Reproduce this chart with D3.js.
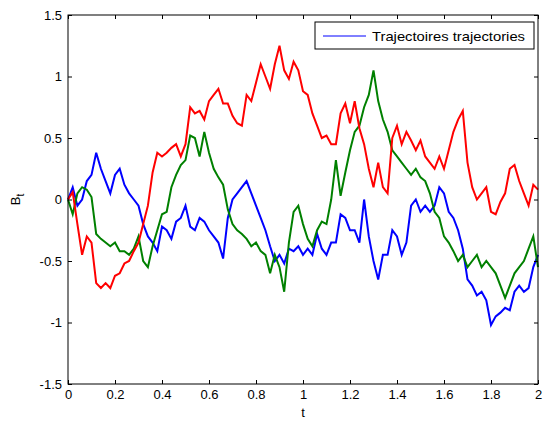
<!DOCTYPE html>
<html>
<head>
<meta charset="utf-8">
<script src="https://cdn.jsdelivr.net/npm/d3@7"></script>
<style>
  body { margin: 0; background: #fff; }
  text { font-family: "Liberation Sans", Arial, sans-serif; }
</style>
</head>
<body>
<div id="chart"></div>
<script>
// time grid, step 0.02
var t_values = d3.range(0, 101).map(function(i) { return Math.round(i * 2) / 100; });

var blue_values = [
  0, 0.1, -0.05, 0.0, 0.15, 0.2, 0.38, 0.25, 0.15, 0.05,
  0.2, 0.25, 0.12, 0.05, 0.0, -0.05, -0.2, -0.3, -0.35, -0.42,
  -0.22, -0.25, -0.32, -0.18, -0.15, -0.05, -0.22, -0.25, -0.15, -0.18,
  -0.25, -0.3, -0.35, -0.48, -0.15, 0.0, 0.05, 0.1, 0.15, 0.05,
  -0.05, -0.15, -0.25, -0.38, -0.5, -0.45, -0.52, -0.4, -0.42, -0.38,
  -0.45, -0.4, -0.45, -0.28, -0.4, -0.45, -0.35, -0.35, -0.12, -0.15,
  -0.25, -0.25, -0.35, 0.0, -0.3, -0.5, -0.65, -0.45, -0.45, -0.25,
  -0.3, -0.45, -0.35, -0.05, 0.0, -0.1, -0.05, -0.1, -0.05, 0.1,
  0.05, -0.1, -0.15, -0.25, -0.4, -0.65, -0.7, -0.78, -0.75, -0.82,
  -1.02, -0.95, -0.92, -0.88, -0.9, -0.75, -0.7, -0.75, -0.72, -0.55,
  -0.45
];

var green_values = [
  0, -0.12, 0.05, 0.1, 0.08, 0.02, -0.28, -0.32, -0.35, -0.38,
  -0.35, -0.42, -0.42, -0.45, -0.4, -0.3, -0.5, -0.55, -0.38, -0.25,
  -0.12, -0.1, 0.1, 0.2, 0.28, 0.32, 0.52, 0.5, 0.35, 0.55,
  0.38, 0.25, 0.18, 0.12, -0.08, -0.2, -0.25, -0.28, -0.32, -0.38,
  -0.35, -0.42, -0.45, -0.6, -0.45, -0.55, -0.75, -0.35, -0.1, -0.05,
  -0.2, -0.32, -0.38, -0.25, -0.18, -0.2, 0.0, 0.32, 0.03, 0.22,
  0.4, 0.55, 0.6, 0.75, 0.85, 1.05, 0.8, 0.65, 0.55, 0.4,
  0.35, 0.3, 0.25, 0.2, 0.25, 0.18, 0.15, 0.05, -0.1, -0.15,
  -0.3, -0.35, -0.42, -0.5, -0.45, -0.55, -0.5, -0.45, -0.55, -0.5,
  -0.55, -0.6, -0.7, -0.8, -0.7, -0.6, -0.55, -0.5, -0.4, -0.3,
  -0.55
];

var red_values = [
  0, 0.06, -0.2, -0.45, -0.3, -0.35, -0.68, -0.72, -0.68, -0.72,
  -0.62, -0.6, -0.52, -0.5, -0.42, -0.35, -0.2, -0.05, 0.22, 0.38,
  0.35, 0.38, 0.42, 0.45, 0.35, 0.45, 0.75, 0.7, 0.72, 0.65,
  0.8, 0.85, 0.9, 0.78, 0.78, 0.68, 0.62, 0.6, 0.85, 0.8,
  0.95, 1.1, 1.0, 0.9, 1.1, 1.25, 1.05, 0.98, 1.12, 1.05,
  0.88, 0.85, 0.7, 0.6, 0.5, 0.52, 0.45, 0.45, 0.7, 0.78,
  0.62, 0.8, 0.58, 0.45, 0.25, 0.1, 0.3, 0.1, 0.05, 0.5,
  0.6, 0.45, 0.55, 0.48, 0.4, 0.48, 0.35, 0.3, 0.25, 0.35,
  0.25, 0.4, 0.55, 0.65, 0.72, 0.3, 0.1, 0.0, 0.05, 0.1,
  -0.1, -0.12, -0.02, 0.05, 0.25, 0.28, 0.15, 0.05, -0.05, 0.12,
  0.08
];

var series = [
  {name: "blue", color: "#0000ff", values: blue_values},
  {name: "green", color: "#008000", values: green_values},
  {name: "red", color: "#ff0000", values: red_values}
];

var x_ticks = [0, 0.2, 0.4, 0.6, 0.8, 1, 1.2, 1.4, 1.6, 1.8, 2];
var y_ticks = [-1.5, -1, -0.5, 0, 0.5, 1, 1.5];
var legend_label = "Trajectoires trajectories";

var margin = {top: 15, right: 7, bottom: 43, left: 68},
	width = 545 - margin.left - margin.right,
	height = 427 - margin.top - margin.bottom;

var svg = d3.select("#chart").append("svg")
	.attr("width", 545)
	.attr("height", 427)
  .append("g")
	.attr("transform", "translate(" + margin.left + "," + margin.top + ")");

var x = d3.scaleLinear().domain([0, 2]).range([0, width]);
var y = d3.scaleLinear().domain([-1.5, 1.5]).range([height, 0]);

// lines
var line = d3.line()
	.x(function(d, i) { return x(t_values[i]); })
	.y(function(d) { return y(d); });

series.forEach(function(s) {
	svg.append("path")
		.datum(s.values)
		.attr("fill", "none")
		.attr("stroke", s.color)
		.attr("stroke-width", 2)
		.attr("stroke-linejoin", "miter")
		.attr("d", line);
});

// axes, ticks inside (matlab style)
var fmt = function(d) { return String(d); };

svg.append("g")
	.attr("transform", "translate(0," + height + ")")
	.call(d3.axisBottom(x).tickValues(x_ticks).tickFormat(fmt).tickSizeInner(-4).tickSizeOuter(0).tickPadding(6))
	.call(g => g.select(".domain").remove());

svg.append("g")
	.call(d3.axisTop(x).tickValues(x_ticks).tickFormat("").tickSizeInner(-4).tickSizeOuter(0))
	.call(g => g.select(".domain").remove());

svg.append("g")
	.call(d3.axisLeft(y).tickValues(y_ticks).tickFormat(fmt).tickSizeInner(-4).tickSizeOuter(0).tickPadding(6))
	.call(g => g.select(".domain").remove());

svg.append("g")
	.attr("transform", "translate(" + width + ",0)")
	.call(d3.axisRight(y).tickValues(y_ticks).tickFormat("").tickSizeInner(-4).tickSizeOuter(0))
	.call(g => g.select(".domain").remove());

svg.selectAll(".tick text")
	.attr("font-size", "13px")
	.attr("font-family", "Liberation Sans, Arial, sans-serif")
	.attr("fill", "#000");
svg.selectAll(".tick line").attr("stroke", "#000");

// box
svg.append("rect")
	.attr("x", 0).attr("y", 0)
	.attr("width", width).attr("height", height)
	.attr("fill", "none")
	.attr("stroke", "#000")
	.attr("stroke-width", 1);

// axis labels
svg.append("text")
	.attr("x", width / 2)
	.attr("y", height + 33)
	.attr("text-anchor", "middle")
	.attr("font-size", "13px")
	.text("t");

var ylab = svg.append("text")
	.attr("transform", "translate(" + (-48) + "," + (height / 2) + ") rotate(-90)")
	.attr("text-anchor", "middle")
	.attr("font-size", "13px");
ylab.append("tspan").text("B");
ylab.append("tspan").attr("font-size", "10px").attr("dy", 4).text("t");

// legend
var lg = svg.append("g").attr("transform", "translate(" + (315 - margin.left) + "," + (22 - margin.top) + ")");
lg.append("rect")
	.attr("width", 219).attr("height", 27)
	.attr("fill", "#fff")
	.attr("stroke", "#000");
lg.append("line")
	.attr("x1", 8).attr("x2", 51)
	.attr("y1", 14).attr("y2", 14)
	.attr("stroke", "#0000ff")
	.attr("stroke-width", 1);
lg.append("text")
	.attr("x", 57).attr("y", 18.5)
	.attr("font-size", "13px")
	.attr("textLength", 153)
	.attr("lengthAdjust", "spacingAndGlyphs")
	.text(legend_label);
</script>
</body>
</html>
